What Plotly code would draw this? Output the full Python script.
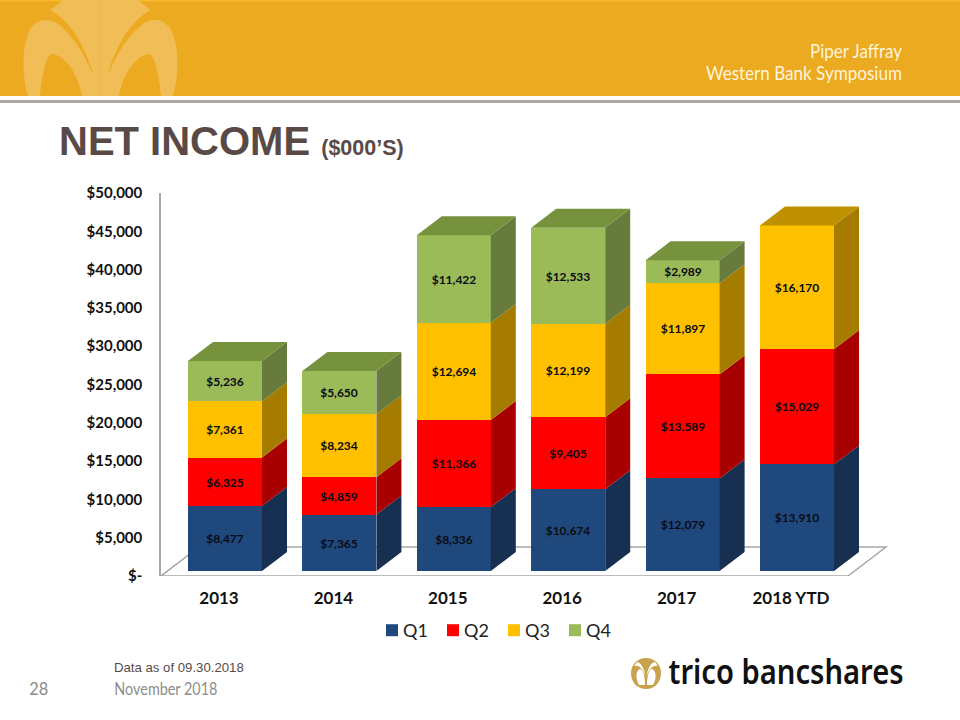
import plotly.graph_objects as go

# ---- data ----
years = ["2013", "2014", "2015", "2016", "2017", "2018 YTD"]
series_names = ["Q1", "Q2", "Q3", "Q4"]
q1 = [8477, 7365, 8336, 10674, 12079, 13910]
q2 = [6325, 4859, 11366, 9405, 13589, 15029]
q3 = [7361, 8234, 12694, 12199, 11897, 16170]
q4 = [5236, 5650, 11422, 12533, 2989, None]
y_ticks = [0, 5000, 10000, 15000, 20000, 25000, 30000, 35000, 40000, 45000, 50000]
y_labels = ["$-", "$5,000", "$10,000", "$15,000", "$20,000", "$25,000",
            "$30,000", "$35,000", "$40,000", "$45,000", "$50,000"]

front = ["#1F497D", "#FF0000", "#FFC000", "#9BBB59"]
side = ["#172F50", "#A80000", "#A67C00", "#667B3C"]
top = ["#1A3C68", "#BF0000", "#BF9000", "#76923C"]

W, H = 960, 720
def fx(p): return p / W
def fy(p): return 1 - p / H

# axes geometry (pixels)
AX_L, AX_R, AX_B, AX_T = 161, 900, 576, 193
C0, STEP = 225.0, 114.4
PX_PER_UNIT = (AX_B - AX_T) / 50000
BAR_W = 74 / STEP
DX = 25 / STEP
DY = 19 / PX_PER_UNIT
BASE = 5 / PX_PER_UNIT
x_pos = list(range(len(years)))
x_range = [(AX_L - C0) / STEP, (AX_R - C0) / STEP]

fig = go.Figure()
series = [q1, q2, q3, q4]
cum = [BASE] * len(years)
side_x = [[] for _ in series]; side_y = [[] for _ in series]
top_x = [[] for _ in series]; top_y = [[] for _ in series]
top_idx = [None] * len(years)
tops = [None] * len(years)

for s, vals in enumerate(series):
    bases = list(cum)
    for i, v in enumerate(vals):
        if v is None:
            continue
        b, t = cum[i], cum[i] + v
        r = x_pos[i] + BAR_W / 2
        side_x[s] += [r, r + DX, r + DX, r, r, None]
        side_y[s] += [b, b + DY, t + DY, t, b, None]
        cum[i] = t
        top_idx[i] = s
        tops[i] = t
    fig.add_trace(go.Bar(
        x=x_pos, y=vals, base=bases, width=BAR_W, name=series_names[s],
        marker=dict(color=front[s], line=dict(width=0)),
        text=[None if v is None else f"${v:,}" for v in vals],
        textposition="inside", insidetextanchor="middle", textangle=0,
        constraintext="none",
        insidetextfont=dict(family="Lato", size=12, color="#0A0A14", weight="bold"),
        hoverinfo="skip", legendgroup=series_names[s],
    ))

for i, s in enumerate(top_idx):
    l, r, t = x_pos[i] - BAR_W / 2, x_pos[i] + BAR_W / 2, tops[i]
    top_x[s] += [l, r, r + DX, l + DX, l, None]
    top_y[s] += [t, t, t + DY, t + DY, t, None]

for s in range(len(series)):
    fig.add_trace(go.Scatter(x=side_x[s], y=side_y[s], mode="lines", fill="toself",
                             fillcolor=side[s], line=dict(width=0), showlegend=False,
                             hoverinfo="skip"))
    if top_x[s]:
        fig.add_trace(go.Scatter(x=top_x[s], y=top_y[s], mode="lines", fill="toself",
                                 fillcolor=top[s], line=dict(width=0), showlegend=False,
                                 hoverinfo="skip"))

# floor of the 3-D box
floor_y = (AX_B - 547) / PX_PER_UNIT
fl = x_range[0]
fr = (848 - C0) / STEP
fbl = (199 - C0) / STEP
fbr = (886 - C0) / STEP
shapes = [
    dict(type="path", xref="x", yref="y", layer="below",
         path=f"M{fl},0 L{fr},0 L{fbr},{floor_y} L{fbl},{floor_y} Z",
         line=dict(color="#A6A6A6", width=1.5), fillcolor="rgba(0,0,0,0)"),
]

# header band
def rect(x0, y0, x1, y1, color):
    return dict(type="rect", xref="paper", yref="paper", layer="below",
                x0=fx(x0), x1=fx(x1), y0=fy(y1), y1=fy(y0),
                fillcolor=color, line=dict(width=0))

def poly(d, color):
    out = []
    for tok in d.split():
        if "," in tok:
            a, b = tok.split(",")
            out.append(f"{fx(float(a)):.5f},{fy(float(b)):.5f}")
        else:
            out.append(tok)
    return dict(type="path", xref="paper", yref="paper", layer="below",
                path=" ".join(out), fillcolor=color, line=dict(width=0))

GOLD, LIGHT = "#EBAA20", "#F0BD57"
def mirror(d, cx):
    out = []
    for tok in d.split():
        if "," in tok:
            a, b = tok.split(",")
            out.append(f"{2 * cx - float(a)},{b}")
        else:
            out.append(tok)
    return " ".join(out)

left_lobe = "M 28,96 C 22,75 21,45 31,28 C 38,18 50,18 58,24 C 75,37 88,60 93,77 L 93,96 L 82,96 C 78,74 65,55 52,54 C 46,55 42,75 40,96 Z"
stem = "M 50,10 C 55,7 59,3 63,0 L 100.5,0 L 100.5,96 L 92,96 L 92,70 C 84,45 70,20 50,10 Z"
shapes += [rect(0, 0, W, 96, GOLD), rect(0, 0, W, 1.5, "#F7B72E")]
for d in [left_lobe, stem]:
    shapes.append(poly(d, LIGHT))
    shapes.append(poly(mirror(d, 100.5), LIGHT))
shapes += [rect(0, 96, W, 100, "#FFFDF7"), rect(0, 100, W, 103, "#ABA8A3")]

# small logo mark
LOGO = "#C9A24C"
icon = "M 646,658 C 637,658 631,665 631,673 C 631,682 637,689 646,689 C 655,689 661,682 661,673 C 661,665 655,658 646,658 Z"
shapes.append(poly(icon, LOGO))
hole = "M 639,685 C 635,678 636,670 640,669 C 643,669 645,676 645,685 Z"
shapes.append(poly(hole, "#FFFFFF"))
shapes.append(poly(mirror(hole, 646), "#FFFFFF"))
gap = "M 637,662 C 641,663 644,667 645.5,677 C 643,669 640,665 634,666 Z"
shapes.append(poly(gap, "#FFFFFF"))
shapes.append(poly(mirror(gap, 646), "#FFFFFF"))

ann = [
    dict(text="<b>NET INCOME</b> <b><span style='font-size:21.5px'>($000’S)</span></b>",
         x=fx(59), y=fy(141), xanchor="left", yanchor="middle", showarrow=False,
         font=dict(family="Liberation Sans", size=40, color="#5A4A47")),
    dict(text="Piper Jaffray", x=fx(856), y=fy(50), xanchor="center", yanchor="middle",
         showarrow=False, font=dict(family="Lato", size=20, color="#FFF4DC")),
    dict(text="Western Bank Symposium", x=fx(804), y=fy(72), xanchor="center", yanchor="middle",
         showarrow=False, font=dict(family="Lato", size=20, color="#FFF4DC")),
    dict(text="Data as of 09.30.2018", x=fx(114), y=fy(667), xanchor="left", yanchor="middle",
         showarrow=False, font=dict(family="Liberation Sans", size=13.2, color="#5A4A47")),
    dict(text="November 2018", x=fx(165.5), y=fy(688), xanchor="center", yanchor="middle",
         showarrow=False, font=dict(family="Lato", size=17, color="#8C8C8C")),
    dict(text="28", x=fx(38.5), y=fy(688), xanchor="center", yanchor="middle",
         showarrow=False, font=dict(family="Lato", size=17, color="#8C8C8C")),
    dict(text="trico bancshares", x=fx(785.5), y=fy(670), xanchor="center", yanchor="middle",
         showarrow=False, font=dict(family="Noto Sans", size=35, color="#111111", weight=600)),
]
for a in ann:
    a["xref"] = "paper"; a["yref"] = "paper"
    a["borderpad"] = 0; a["borderwidth"] = 0

fig.update_layout(
    width=W, height=H, margin=dict(l=0, r=0, t=0, b=0, autoexpand=False),
    paper_bgcolor="white", plot_bgcolor="rgba(0,0,0,0)",
    barmode="overlay", bargap=0,
    shapes=shapes, annotations=ann,
    hovermode=False,
    xaxis=dict(domain=[fx(AX_L), fx(AX_R)], range=x_range, tickmode="array",
               tickvals=[p - 6 / STEP for p in x_pos], ticktext=years,
               showgrid=False, zeroline=False, showline=False,
               ticks="outside", ticklen=7, tickcolor="rgba(0,0,0,0)",
               tickfont=dict(family="Lato", size=17, color="#111111", weight="bold")),
    yaxis=dict(domain=[fy(AX_B), fy(AX_T)], range=[0, 50000], tickmode="array",
               tickvals=y_ticks, ticktext=y_labels,
               showgrid=False, zeroline=False, showline=True, linecolor="#A6A6A6", linewidth=1.5,
               ticks="outside", ticklen=14, tickcolor="rgba(0,0,0,0)",
               tickfont=dict(family="Lato", size=15, color="#111111", weight="bold")),
    legend=dict(orientation="h", x=fx(372), y=fy(612), xanchor="left", yanchor="top",
                font=dict(family="Lato", size=18, color="#222222"),
                bgcolor="rgba(0,0,0,0)", entrywidth=16, entrywidthmode="pixels",
                itemclick=False, itemdoubleclick=False, traceorder="normal"),
    showlegend=True,
)

# squeeze text whose reference font is narrower than the fonts available here
post = """
document.body.style.margin='0';
var fit={'trico bancshares':235,'Western Bank Symposium':196,'Piper Jaffray':92,'November 2018':103,'28':19};
document.querySelectorAll('.annotation-text').forEach(function(t){
  var w=fit[t.textContent];
  if(w){
    t.setAttribute('textLength',w);
    t.setAttribute('lengthAdjust','spacingAndGlyphs');
  }
});
document.querySelectorAll('.legendtext').forEach(function(t){t.setAttribute('x',31);});
"""
fig.write_html("out.html", config=dict(displayModeBar=False), post_script=post)
